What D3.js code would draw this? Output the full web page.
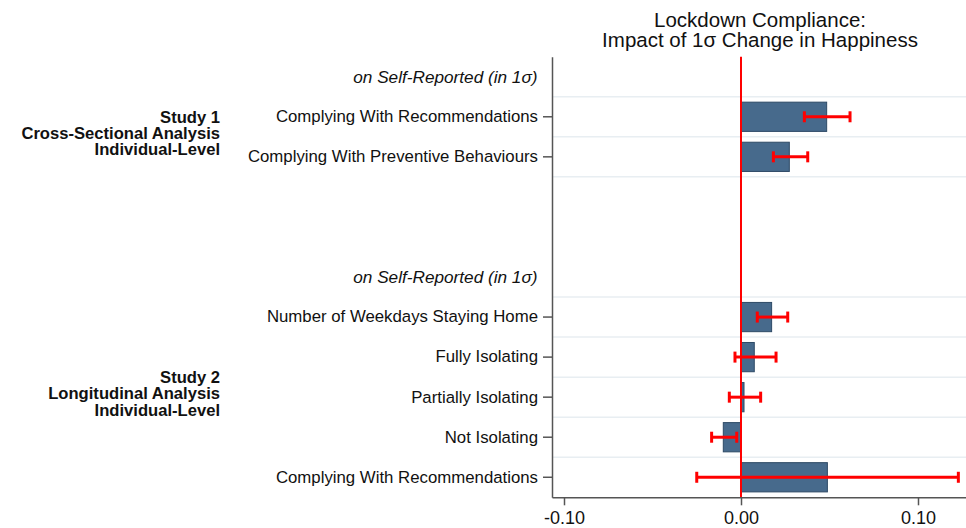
<!DOCTYPE html>
<html>
<head>
<meta charset="utf-8">
<script src="https://cdn.jsdelivr.net/npm/d3@7"></script>
<style>
  body { margin: 0; background: #fff; }
  svg { display: block; font-family: "Liberation Sans", Arial, sans-serif; }
</style>
</head>
<body>
<svg id="chart" width="966" height="528"></svg>
<script>
// rows from top to bottom, header rows and blank rows included
const rowLabels = [
  'on Self-Reported (in 1\u03c3)',
  'Complying With Recommendations',
  'Complying With Preventive Behaviours',
  '',
  '',
  'on Self-Reported (in 1\u03c3)',
  'Number of Weekdays Staying Home',
  'Fully Isolating',
  'Partially Isolating',
  'Not Isolating',
  'Complying With Recommendations'
]
const rowKinds = ['header', 'bar', 'bar', 'blank', 'blank', 'header', 'bar', 'bar', 'bar', 'bar', 'bar']

const estimates = [null, 0.0484, 0.0273, null, null, null, 0.0173, 0.0075, 0.0017, -0.0100, 0.0488]
const ciLow     = [null, 0.0358, 0.0183, null, null, null, 0.0092, -0.0034, -0.0066, -0.0166, -0.0250]
const ciHigh    = [null, 0.0616, 0.0377, null, null, null, 0.0264, 0.0198, 0.0111, -0.0024, 0.1228]

const groupLines = [
  ['Study 1', 'Cross-Sectional Analysis', 'Individual-Level'],
  ['Study 2', 'Longitudinal Analysis', 'Individual-Level']
]
const groupRows = [[1, 2], [6, 10]]

const xTicks = [-0.10, 0.00, 0.10]
const titleLines = ['Lockdown Compliance:', 'Impact of 1\u03c3 Change in Happiness']

const plot = { left: 552, right: 966, top: 56.7, bottom: 497.3 }
const colors = {
  bar: '#476a8c',
  barStroke: '#2e4a66',
  ci: '#ff0000',
  zero: '#ff0000',
  grid: '#e8eef2',
  axis: '#555555',
  text: '#111111'
}

const svg = d3.select('#chart')

const rowIndex = d3.range(rowLabels.length)

const x = d3.scaleLinear()
    .domain([-0.10678, 0.12712])
    .range([plot.left, plot.right])

const y = d3.scaleBand()
    .domain(rowIndex)
    .range([plot.top, plot.bottom])

const rowCenter = (i) => y(i) + y.bandwidth() / 2
const barRows = rowIndex.filter((i) => rowKinds[i] == 'bar')

// grid lines at the borders of every bar row
const gridYs = Array.from(new Set(barRows.flatMap((i) => [y(i), y(i) + y.bandwidth()])))
    .filter((v) => Math.abs(v - plot.bottom) > 1)

svg.append('g')
    .attr('class', 'grid')
  .selectAll('line')
  .data(gridYs)
  .enter().append('line')
    .attr('x1', plot.left)
    .attr('x2', plot.right)
    .attr('y1', (d) => d)
    .attr('y2', (d) => d)
    .attr('stroke', colors.grid)
    .attr('stroke-width', 1.5)

// bars
const barH = y.bandwidth() * 0.73
svg.append('g')
    .attr('class', 'bars')
  .selectAll('rect')
  .data(barRows)
  .enter().append('rect')
    .attr('x', (i) => x(Math.min(0, estimates[i])))
    .attr('width', (i) => Math.abs(x(estimates[i]) - x(0)))
    .attr('y', (i) => rowCenter(i) - barH / 2)
    .attr('height', barH)
    .attr('fill', colors.bar)
    .attr('stroke', colors.barStroke)
    .attr('stroke-width', 1)

// zero line
svg.append('line')
    .attr('x1', x(0))
    .attr('x2', x(0))
    .attr('y1', plot.top)
    .attr('y2', plot.bottom)
    .attr('stroke', colors.zero)
    .attr('stroke-width', 2)

// confidence intervals
const ci = svg.append('g')
    .attr('class', 'ci')
  .selectAll('g')
  .data(barRows)
  .enter().append('g')
    .attr('stroke', colors.ci)
    .attr('stroke-width', 3)

ci.append('line')
    .attr('x1', (i) => x(ciLow[i]))
    .attr('x2', (i) => x(Math.min(ciHigh[i], x.domain()[1])))
    .attr('y1', rowCenter)
    .attr('y2', rowCenter)

ci.selectAll('line.cap')
  .data((i) => [ciLow[i], ciHigh[i]].map((v) => ({ v: v, row: i })))
  .enter().append('line')
    .attr('class', 'cap')
    .attr('x1', (d) => x(d.v))
    .attr('x2', (d) => x(d.v))
    .attr('y1', (d) => rowCenter(d.row) - 5.5)
    .attr('y2', (d) => rowCenter(d.row) + 5.5)

// y axis
const yAxis = svg.append('g')
    .attr('transform', `translate(${plot.left},0)`)
    .call(d3.axisLeft(y)
        .tickValues(barRows)
        .tickFormat((i) => rowLabels[i])
        .tickSize(9)
        .tickSizeOuter(0)
        .tickPadding(5))

yAxis.select('.domain').attr('stroke', colors.axis).attr('stroke-width', 1.5)
yAxis.selectAll('.tick line').attr('stroke', colors.axis).attr('stroke-width', 1.5)
yAxis.selectAll('.tick text')
    .attr('font-size', 16.8)
    .attr('font-family', '"Liberation Sans", Arial, sans-serif')
    .attr('fill', colors.text)

// header rows
svg.append('g')
  .selectAll('text')
  .data(rowIndex.filter((i) => rowKinds[i] == 'header'))
  .enter().append('text')
    .attr('x', plot.left - 14.5)
    .attr('y', (i) => rowCenter(i))
    .attr('dy', '0.34em')
    .attr('text-anchor', 'end')
    .attr('font-size', 17.2)
    .attr('font-style', 'italic')
    .attr('fill', colors.text)
    .text((i) => rowLabels[i])

// group labels
const lineGap = 16.3
svg.append('g')
  .selectAll('text')
  .data(groupLines)
  .enter().append('text')
    .attr('text-anchor', 'end')
    .attr('font-size', 16.6)
    .attr('font-weight', 'bold')
    .attr('fill', colors.text)
    .attr('transform', (d, g) => {
        const mid = (rowCenter(groupRows[g][0]) + rowCenter(groupRows[g][1])) / 2 - 3.5
        return `translate(220,${mid - lineGap * (d.length - 1) / 2})`
    })
  .selectAll('tspan')
  .data((d) => d)
  .enter().append('tspan')
    .attr('x', 0)
    .attr('y', (d, i) => i * lineGap)
    .attr('dy', '0.35em')
    .text((d) => d)

// x axis
const xAxis = svg.append('g')
    .attr('transform', `translate(0,${plot.bottom})`)
    .call(d3.axisBottom(x)
        .tickValues(xTicks)
        .tickFormat((d) => d3.format('.2f')(d).replace('\u2212', '-'))
        .tickSize(8)
        .tickSizeOuter(0)
        .tickPadding(6))

xAxis.select('.domain').attr('stroke', colors.axis).attr('stroke-width', 1.5)
xAxis.selectAll('.tick line').attr('stroke', colors.axis).attr('stroke-width', 1.5)
xAxis.selectAll('.tick text')
    .attr('font-size', 18)
    .attr('font-family', '"Liberation Sans", Arial, sans-serif')
    .attr('fill', colors.text)

// title
svg.append('text')
    .attr('text-anchor', 'middle')
    .attr('font-size', 20.5)
    .attr('fill', colors.text)
    .attr('transform', `translate(${(plot.left + plot.right) / 2 + 1},0)`)
  .selectAll('tspan')
  .data(titleLines)
  .enter().append('tspan')
    .attr('x', 0)
    .attr('y', (d, i) => 26.5 + i * 20)
    .text((d) => d)
</script>
</body>
</html>
